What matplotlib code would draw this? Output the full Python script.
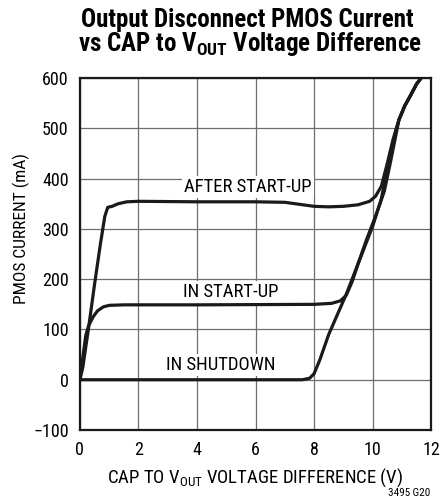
import matplotlib
matplotlib.use("Agg")
from matplotlib import pyplot as plt

plt.rcParams['font.family'] = ['Roboto Condensed', 'DejaVu Sans']

# curves (V, mA)
after_x = [0, 0.1, 0.3, 0.5, 0.7, 0.85, 0.95, 1.1, 1.3, 1.6, 2, 4, 6, 7, 7.5, 8, 8.5, 9,
           9.5, 9.9, 10.1, 10.3, 10.5, 10.7, 10.9, 11.1, 11.3, 11.5, 11.68]
after_y = [0, 25, 105, 190, 270, 325, 343, 345, 350, 354, 355, 354, 354, 353, 349, 345, 344, 345,
           348, 355, 365, 385, 430, 478, 517, 545, 566, 588, 602]

startup_x = [0, 0.1, 0.2, 0.3, 0.45, 0.6, 0.8, 1.0, 1.5, 4, 8, 8.6, 8.9, 9.1, 9.3, 9.5, 9.8,
             10.1, 10.4, 10.6, 10.9, 11.1, 11.3, 11.5, 11.68]
startup_y = [0, 45, 88, 108, 125, 137, 145, 148, 149, 149, 150, 152, 157, 168, 195, 230, 280,
             325, 375, 430, 517, 545, 566, 588, 602]

shutdown_x = [0, 7.6, 7.85, 8.0, 8.2, 8.5, 8.8, 9.1, 9.4, 9.7, 10.0, 10.3, 10.5, 10.7, 10.9,
              11.1, 11.3, 11.5, 11.68]
shutdown_y = [0, 0, 3, 12, 40, 90, 130, 170, 215, 260, 305, 360, 420, 475, 517, 545, 566, 588, 602]

curve_labels = ["AFTER START-UP", "IN START-UP", "IN SHUTDOWN"]
label_pos = [(5.75, 384), (5.16, 175), (4.81, 30)]

fig = plt.figure(figsize=(4.44, 5.01), dpi=100)
ax = fig.add_axes([0.180, 0.1417, 0.791, 0.7023])

for xs, ys in [(after_x, after_y), (startup_x, startup_y), (shutdown_x, shutdown_y)]:
    ax.plot(xs, ys, color='#1a1a1a', lw=2.3, solid_capstyle='round', zorder=3)

for text, (tx, ty) in zip(curve_labels, label_pos):
    ax.text(tx, ty, text, ha='center', va='center', fontsize=13.5, zorder=2,
            bbox=dict(facecolor='white', edgecolor='none', pad=1.5))

ax.set_xlim(0, 12)
ax.set_ylim(-100, 600)
ax.set_xticks(range(0, 13, 2))
ax.set_yticks(range(-100, 601, 100))
ax.set_yticklabels(['\u2212100', '0', '100', '200', '300', '400', '500', '600'])
ax.grid(True, color='#6e6e6e', lw=0.9)
ax.set_axisbelow(True)
ax.tick_params(length=0, labelsize=13, pad=8)
for sp in ax.spines.values():
    sp.set_linewidth(1.6)
    sp.set_color('#1a1a1a')

ax.set_xlabel('CAP TO V$_{\\mathregular{OUT}}$ VOLTAGE DIFFERENCE (V)', fontsize=13.5, labelpad=5)
ax.set_ylabel('PMOS CURRENT (mA)', fontsize=12.5)
ax.yaxis.set_label_coords(-0.142, 0.574)

fig.text(0.557, 0.946, 'Output Disconnect PMOS Current', ha='center', va='baseline',
         fontsize=18, fontweight='bold')
fig.text(0.562, 0.898, 'vs CAP to V$_{\\mathregular{OUT}}$ Voltage Difference', ha='center',
         va='baseline', fontsize=18, fontweight='bold')
fig.text(0.968, 0.016, '3495 G20', ha='right', va='center', fontsize=8)

fig.savefig('out.png', dpi=100)
